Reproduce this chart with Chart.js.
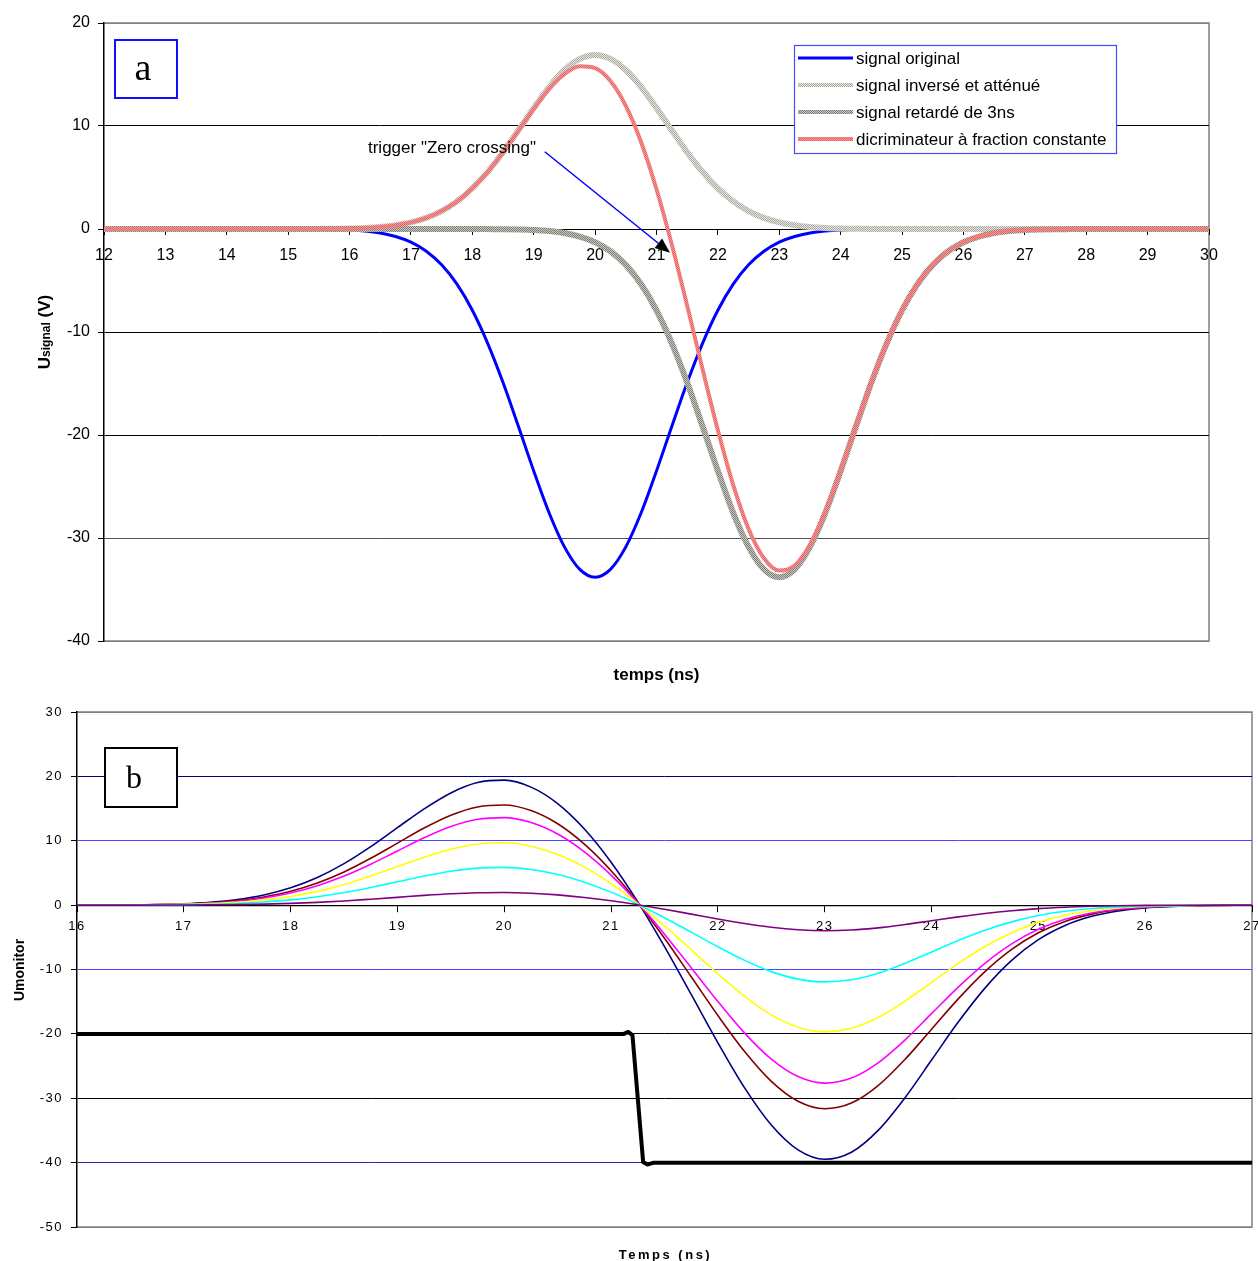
<!DOCTYPE html>
<html>
<head>
<meta charset="utf-8">
<script src="https://cdn.jsdelivr.net/npm/chart.js@4.4.1/dist/chart.umd.min.js"></script>
<style>
  html, body { margin: 0; padding: 0; background: #fff; }
  #wrap { position: relative; width: 1258px; height: 1261px; }
  canvas { position: absolute; left: 0; }
  #chartA { top: 0; }
  #chartB { top: 690px; }
</style>
</head>
<body>
<div id="wrap">
  <canvas id="chartA" width="1258" height="690"></canvas>
  <canvas id="chartB" width="1258" height="571"></canvas>
</div>
<script>
// ---- graphe a : signaux (V) en fonction du temps (ns) ----
const tempsA = [12,13,14,15,15.25,15.5,15.75,16,16.25,16.5,16.75,17,17.25,17.5,17.75,18,18.25,18.5,18.75,19,19.25,19.5,19.75,20,20.25,20.5,20.75,21,21.25,21.5,21.75,22,22.25,22.5,22.75,23,23.25,23.5,23.75,24,24.25,24.5,24.75,25,25.25,25.5,25.75,26,26.25,26.5,26.75,27,27.25,27.5,27.75,28,29,30];

const signalOriginal = [0,0,0,0,-0.01,-0.02,-0.05,-0.10,-0.20,-0.39,-0.73,-1.28,-2.16,-3.48,-5.36,-7.89,-11.10,-14.91,-19.15,-23.49,-27.55,-30.86,-33.04,-33.80,-33.04,-30.86,-27.55,-23.49,-19.15,-14.91,-11.10,-7.89,-5.36,-3.48,-2.16,-1.28,-0.73,-0.39,-0.20,-0.10,-0.05,-0.02,-0.01,0,0,0,0,0,0,0,0,0,0,0,0,0,0,0];

const signalInverse = [0,0,0,0,0.01,0.01,0.03,0.05,0.10,0.20,0.37,0.64,1.08,1.74,2.68,3.95,5.55,7.46,9.58,11.75,13.78,15.43,16.52,16.90,16.52,15.43,13.78,11.75,9.58,7.46,5.55,3.95,2.68,1.74,1.08,0.64,0.37,0.20,0.10,0.05,0.03,0.01,0.01,0,0,0,0,0,0,0,0,0,0,0,0,0,0,0];

const signalRetarde = [0,0,0,0,0,0,0,0,0,0,0,0,0,0,0,0,-0.01,-0.02,-0.05,-0.10,-0.20,-0.39,-0.73,-1.28,-2.16,-3.48,-5.36,-7.89,-11.10,-14.91,-19.15,-23.49,-27.55,-30.86,-33.04,-33.80,-33.04,-30.86,-27.55,-23.49,-19.15,-14.91,-11.10,-7.89,-5.36,-3.48,-2.16,-1.28,-0.73,-0.39,-0.20,-0.10,-0.05,-0.02,-0.01,0,0,0];

const discriminateur = [0,0,0,0,0.01,0.01,0.03,0.05,0.10,0.20,0.37,0.64,1.08,1.74,2.68,3.95,5.54,7.44,9.53,11.65,13.58,15.04,15.79,15.62,14.36,11.95,8.42,3.86,-1.52,-7.45,-13.60,-19.54,-24.87,-29.12,-31.96,-33.16,-32.67,-30.66,-27.45,-23.44,-19.12,-14.90,-11.09,-7.89,-5.36,-3.48,-2.16,-1.28,-0.73,-0.39,-0.20,-0.10,-0.05,-0.02,-0.01,0,0,0];

const nomsA = ['signal original', 'signal inversé et atténué', 'signal retardé de 3ns', 'dicriminateur à fraction constante'];

// flèche "trigger" (en unités des axes)
const annotation = { texte: 'trigger "Zero crossing"', texteX: 16.3, texteY: 7.8, deX: 19.18, deY: 7.5, versX: 21.22, versY: -2.3 };

// ---- graphe b : sortie moniteur pour plusieurs fractions ----
const tempsB = [16,16.5,17,17.25,17.5,17.75,18,18.25,18.5,18.75,19,19.25,19.5,19.75,20,20.25,20.5,20.75,21,21.25,21.5,21.75,22,22.25,22.5,22.75,23,23.25,23.5,23.75,24,24.25,24.5,24.75,25,25.25,25.5,25.75,26,26.5,27];

const courbeMarine = [0.01,0.04,0.22,0.45,0.87,1.58,2.69,4.29,6.44,9.08,12.03,14.95,17.43,19.04,19.41,18.33,15.77,11.82,6.67,0.50,-6.45,-13.88,-21.39,-28.39,-34.16,-38.02,-39.48,-38.38,-34.99,-29.95,-24.07,-18.17,-12.89,-8.59,-5.37,-3.16,-1.74,-0.91,-0.44,-0.09,-0.01];
const courbeBrune = [0.00,0.03,0.18,0.36,0.70,1.27,2.15,3.44,5.16,7.28,9.63,11.97,13.96,15.25,15.55,14.69,12.64,9.47,5.34,0.40,-5.16,-11.12,-17.14,-22.74,-27.37,-30.46,-31.62,-30.74,-28.03,-23.99,-19.28,-14.56,-10.33,-6.88,-4.30,-2.53,-1.40,-0.73,-0.35,-0.07,-0.01];
const courbeMagenta = [0.00,0.03,0.15,0.32,0.61,1.11,1.88,3.01,4.51,6.36,8.42,10.47,12.21,13.33,13.59,12.84,11.05,8.28,4.67,0.35,-4.51,-9.72,-14.98,-19.88,-23.92,-26.63,-27.65,-26.87,-24.50,-20.97,-16.86,-12.73,-9.03,-6.01,-3.76,-2.21,-1.22,-0.63,-0.31,-0.06,-0.01];
const courbeJaune = [0.00,0.02,0.11,0.23,0.43,0.79,1.34,2.14,3.21,4.53,6.00,7.45,8.69,9.49,9.68,9.14,7.87,5.90,3.33,0.25,-3.21,-6.92,-10.67,-14.16,-17.04,-18.96,-19.69,-19.14,-17.45,-14.94,-12.01,-9.06,-6.43,-4.28,-2.68,-1.58,-0.87,-0.45,-0.22,-0.04,-0.01];
const courbeCyan = [0.00,0.01,0.07,0.14,0.26,0.48,0.81,1.30,1.95,2.75,3.63,4.52,5.27,5.75,5.87,5.54,4.77,3.57,2.02,0.15,-1.95,-4.20,-6.47,-8.58,-10.33,-11.49,-11.93,-11.60,-10.58,-9.05,-7.28,-5.49,-3.90,-2.60,-1.62,-0.96,-0.53,-0.27,-0.13,-0.03,0.00];
const courbeViolette = [0.00,0.00,0.02,0.05,0.09,0.16,0.27,0.43,0.65,0.92,1.21,1.51,1.76,1.92,1.96,1.85,1.59,1.19,0.67,0.05,-0.65,-1.40,-2.16,-2.86,-3.44,-3.83,-3.98,-3.87,-3.53,-3.02,-2.43,-1.83,-1.30,-0.87,-0.54,-0.32,-0.18,-0.09,-0.04,-0.01,0.00];

// signal logique du trigger
const tempsMoniteur = [16,21.12,21.16,21.2,21.3,21.34,21.4,27];
const sortieMoniteur = [-20,-20,-19.7,-20.2,-39.9,-40.3,-40,-40];

Chart.defaults.font.family = '"Liberation Sans", Arial, sans-serif';
Chart.defaults.color = '#000';

const points = (t, v) => t.map((x, i) => ({ x: x, y: v[i] }));

// motif "hachuré" d'Excel
function motif(ctx, fond, point) {
  const c = document.createElement('canvas');
  c.width = 2; c.height = 2;
  const g = c.getContext('2d');
  g.fillStyle = fond; g.fillRect(0, 0, 2, 2);
  g.fillStyle = point; g.fillRect(0, 0, 1, 1); g.fillRect(1, 1, 1, 1);
  return ctx.createPattern(c, 'repeat');
}

function titreVertical(ctx, x, y, morceaux) {
  ctx.save();
  ctx.translate(x, y);
  ctx.rotate(-Math.PI / 2);
  ctx.textBaseline = 'alphabetic';
  ctx.textAlign = 'left';
  let total = 0;
  morceaux.forEach(m => { ctx.font = m.font; total += ctx.measureText(m.t).width; });
  let pos = -total / 2;
  morceaux.forEach(m => { ctx.font = m.font; ctx.fillText(m.t, pos, 0); pos += ctx.measureText(m.t).width; });
  ctx.restore();
}

// ---------- graphe a ----------
const ctxA = document.getElementById('chartA').getContext('2d');
const couleursGrilleA = { '20': '#808080', '10': '#000', '0': '#000', '-10': '#000', '-20': '#000', '-30': '#505068', '-40': '#808080' };

const decorA = {
  id: 'decorA',
  beforeDraw(chart) {
    const { ctx, chartArea: ca } = chart;
    ctx.save();
    ctx.strokeStyle = '#808080';
    ctx.lineWidth = 1.5;
    ctx.beginPath();
    ctx.moveTo(ca.left, ca.top); ctx.lineTo(ca.right, ca.top);
    ctx.lineTo(ca.right, ca.bottom); ctx.lineTo(ca.left, ca.bottom);
    ctx.stroke();
    ctx.restore();
  },
  afterDraw(chart) {
    const { ctx, chartArea: ca } = chart;
    const xs = chart.scales.x, ys = chart.scales.y;
    ctx.save();

    // légende
    ctx.fillStyle = '#fff';
    ctx.fillRect(794, 45, 322, 108);
    ctx.strokeStyle = '#4848ff';
    ctx.lineWidth = 1.2;
    ctx.strokeRect(794.5, 45.5, 322, 108);
    ctx.font = '17px "Liberation Sans", Arial, sans-serif';
    ctx.textBaseline = 'middle';
    [0, 1, 2, 3].forEach((i, r) => {
      const d = chart.data.datasets[i];
      const y = 58 + r * 27;
      ctx.strokeStyle = d.borderColor;
      ctx.lineWidth = Math.min(d.borderWidth, 4);
      ctx.beginPath(); ctx.moveTo(798, y); ctx.lineTo(853, y); ctx.stroke();
      ctx.fillStyle = '#000';
      ctx.fillText(d.label, 856, y + 1);
    });

    // cadre "a"
    ctx.strokeStyle = '#1010ff';
    ctx.lineWidth = 2;
    ctx.strokeRect(115, 40, 62, 58);
    ctx.fillStyle = '#000';
    ctx.font = '38px "Liberation Serif", "Times New Roman", serif';
    ctx.textAlign = 'center';
    ctx.textBaseline = 'alphabetic';
    ctx.fillText('a', 143, 80);

    // annotation trigger
    ctx.font = '17px "Liberation Sans", Arial, sans-serif';
    ctx.textAlign = 'left';
    ctx.textBaseline = 'middle';
    ctx.fillText(annotation.texte, xs.getPixelForValue(annotation.texteX), ys.getPixelForValue(annotation.texteY));
    const x1 = xs.getPixelForValue(annotation.deX), y1 = ys.getPixelForValue(annotation.deY);
    const x2 = xs.getPixelForValue(annotation.versX), y2 = ys.getPixelForValue(annotation.versY);
    const ang = Math.atan2(y2 - y1, x2 - x1);
    const L = 15, W = 6;
    const bx = x2 - L * Math.cos(ang), by = y2 - L * Math.sin(ang);
    ctx.strokeStyle = '#0000ff';
    ctx.lineWidth = 1.5;
    ctx.beginPath(); ctx.moveTo(x1, y1); ctx.lineTo(bx, by); ctx.stroke();
    ctx.fillStyle = '#000';
    ctx.beginPath();
    ctx.moveTo(x2, y2);
    ctx.lineTo(bx + W * Math.sin(ang), by - W * Math.cos(ang));
    ctx.lineTo(bx - W * Math.sin(ang), by + W * Math.cos(ang));
    ctx.closePath(); ctx.fill();

    // titres d'axes
    ctx.font = 'bold 17px "Liberation Sans", Arial, sans-serif';
    ctx.textAlign = 'center';
    ctx.textBaseline = 'alphabetic';
    ctx.fillText('temps (ns)', (ca.left + ca.right) / 2, 680);
    titreVertical(ctx, 50, 332, [
      { t: 'U', font: 'bold 17px "Liberation Sans", Arial, sans-serif' },
      { t: 'signal', font: 'bold 12px "Liberation Sans", Arial, sans-serif' },
      { t: ' (V)', font: 'bold 17px "Liberation Sans", Arial, sans-serif' }
    ]);
    ctx.restore();
  }
};

new Chart(ctxA, {
  type: 'line',
  data: {
    datasets: [
      { label: nomsA[0], data: points(tempsA, signalOriginal), borderColor: '#0000ff', borderWidth: 3, order: 3 },
      { label: nomsA[1], data: points(tempsA, signalInverse), borderColor: motif(ctxA, '#e8e8e0', '#a8a8a0'), borderWidth: 6, order: 2 },
      { label: nomsA[2], data: points(tempsA, signalRetarde), borderColor: motif(ctxA, '#cacac2', '#7c7c74'), borderWidth: 6, order: 1 },
      { label: nomsA[3], data: points(tempsA, discriminateur), borderColor: motif(ctxA, '#f49494', '#ec6464'), borderWidth: 4, order: 0 }
    ]
  },
  options: {
    responsive: false,
    animation: false,
    layout: { padding: { top: 23, right: 49, bottom: 49, left: 0 } },
    elements: {
      point: { radius: 0 },
      line: { cubicInterpolationMode: 'monotone', borderCapStyle: 'round', borderJoinStyle: 'round' }
    },
    plugins: { legend: { display: false }, tooltip: { enabled: false } },
    scales: {
      x: {
        type: 'linear', min: 12, max: 30, position: { y: 0 },
        ticks: { stepSize: 1, font: { size: 16 }, padding: 12, maxRotation: 0, autoSkip: false },
        grid: { drawOnChartArea: false, drawTicks: true, tickLength: 5, color: '#000' },
        border: { display: true, color: '#000', width: 1 },
        afterFit(s) { s.paddingLeft = 0; s.paddingRight = 0; }
      },
      y: {
        type: 'linear', min: -40, max: 20,
        ticks: { stepSize: 10, font: { size: 16 }, padding: 8 },
        grid: { color: c => (c.tick && couleursGrilleA[String(c.tick.value)]) || '#000', tickColor: '#000', tickLength: 6 },
        border: { display: true, color: '#000', width: 1.5 },
        afterFit(s) { s.width = 104; }
      }
    }
  },
  plugins: [decorA]
});

// ---------- graphe b ----------
const ctxB = document.getElementById('chartB').getContext('2d');
const couleursGrilleB = { '30': '#808080', '20': '#000080', '10': '#4848ff', '0': '#000', '-10': '#4848ff', '-20': '#000', '-30': '#000', '-40': '#2828b0', '-50': '#808080' };

const decorB = {
  id: 'decorB',
  beforeDraw(chart) {
    const { ctx, chartArea: ca } = chart;
    ctx.letterSpacing = '1.5px';
    ctx.save();
    ctx.strokeStyle = '#808080';
    ctx.lineWidth = 1.5;
    ctx.beginPath();
    ctx.moveTo(ca.left, ca.top); ctx.lineTo(ca.right, ca.top);
    ctx.lineTo(ca.right, ca.bottom); ctx.lineTo(ca.left, ca.bottom);
    ctx.stroke();
    ctx.restore();
  },
  afterDraw(chart) {
    const { ctx, chartArea: ca } = chart;
    ctx.save();
    ctx.letterSpacing = '0px';
    // cadre "b"
    ctx.fillStyle = '#fff';
    ctx.fillRect(105, 58, 72, 59);
    ctx.strokeStyle = '#000';
    ctx.lineWidth = 2;
    ctx.strokeRect(105, 58, 72, 59);
    ctx.fillStyle = '#000';
    ctx.font = '32px "Liberation Serif", "Times New Roman", serif';
    ctx.textAlign = 'center';
    ctx.textBaseline = 'alphabetic';
    ctx.fillText('b', 134, 98);
    // titres d'axes
    ctx.letterSpacing = '2.5px';
    ctx.font = 'bold 13px "Liberation Sans", Arial, sans-serif';
    ctx.fillText('Temps (ns)', (ca.left + ca.right) / 2 + 1, 569);
    ctx.letterSpacing = '0px';
    titreVertical(ctx, 24, 280, [{ t: 'Umonitor', font: 'bold 14px "Liberation Sans", Arial, sans-serif' }]);
    ctx.restore();
    ctx.letterSpacing = '0px';
  }
};

const serieB = (v, couleur) => ({ data: points(tempsB, v), borderColor: couleur, borderWidth: 1.6 });

new Chart(ctxB, {
  type: 'line',
  data: {
    datasets: [
      { label: 'moniteur', data: points(tempsMoniteur, sortieMoniteur), borderColor: '#000', borderWidth: 4, tension: 0, cubicInterpolationMode: 'default' },
      Object.assign({ label: 'f1' }, serieB(courbeViolette, '#800080')),
      Object.assign({ label: 'f2' }, serieB(courbeCyan, '#00ffff')),
      Object.assign({ label: 'f3' }, serieB(courbeJaune, '#ffff00')),
      Object.assign({ label: 'f4' }, serieB(courbeMagenta, '#ff00ff')),
      Object.assign({ label: 'f5' }, serieB(courbeBrune, '#800000')),
      Object.assign({ label: 'f6' }, serieB(courbeMarine, '#000080'))
    ]
  },
  options: {
    responsive: false,
    animation: false,
    layout: { padding: { top: 22, right: 6, bottom: 34, left: 0 } },
    elements: {
      point: { radius: 0 },
      line: { cubicInterpolationMode: 'monotone', borderCapStyle: 'round', borderJoinStyle: 'round' }
    },
    plugins: { legend: { display: false }, tooltip: { enabled: false } },
    scales: {
      x: {
        type: 'linear', min: 16, max: 27, position: { y: 0 },
        ticks: { stepSize: 1, font: { size: 13 }, padding: 7, maxRotation: 0, autoSkip: false },
        grid: { drawOnChartArea: false, drawTicks: true, tickLength: 6, color: '#000' },
        border: { display: true, color: '#000', width: 1.2 },
        afterFit(s) { s.paddingLeft = 0; s.paddingRight = 0; }
      },
      y: {
        type: 'linear', min: -50, max: 30,
        ticks: { stepSize: 10, font: { size: 13 }, padding: 8 },
        grid: { color: c => (c.tick && couleursGrilleB[String(c.tick.value)]) || '#000', tickColor: '#000', tickLength: 6 },
        border: { display: true, color: '#000', width: 1.5 },
        afterFit(s) { s.width = 77; }
      }
    }
  },
  plugins: [decorB]
});
</script>
</body>
</html>
